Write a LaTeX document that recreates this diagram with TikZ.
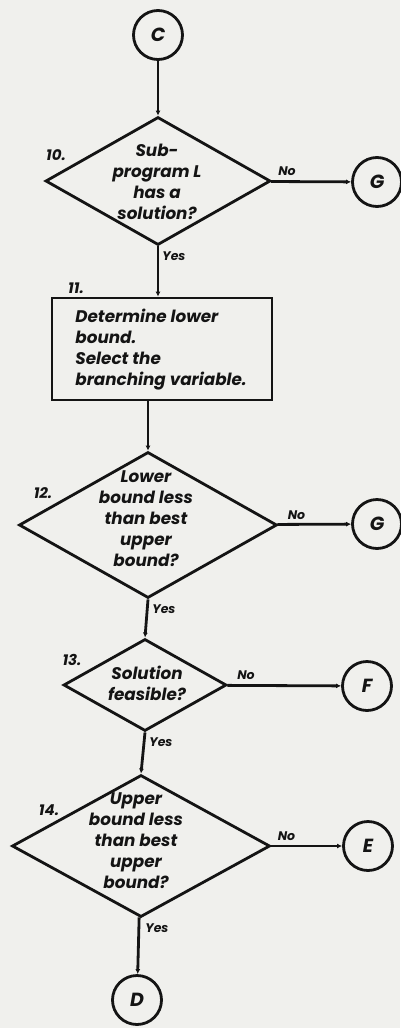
\documentclass[tikz,border=0pt]{standalone}
\usepackage{fontspec}
\setmainfont{Poppins}
\usetikzlibrary{shapes.geometric,arrows.meta}
\definecolor{paper}{RGB}{240,240,237}
\definecolor{ink}{RGB}{20,20,20}

\begin{document}
\begin{tikzpicture}[x=1pt,y=-1pt,line width=2.8pt,draw=ink,text=ink,
    connector/.style={circle,draw,minimum size=49pt,inner sep=0pt,
        font=\bfseries\itshape\fontsize{19}{20}\selectfont},
    decision/.style={diamond,draw,inner sep=0pt},
    procbox/.style={rectangle,draw,inner sep=0pt},
    body/.style={align=center,inner sep=0pt,
        font=\bfseries\itshape\fontsize{16.8}{21}\selectfont},
    tag/.style={inner sep=0pt,font=\bfseries\itshape\fontsize{15}{15}\selectfont},
    answer/.style={inner sep=0pt,font=\bfseries\itshape\fontsize{12.5}{12}\selectfont},
    flow/.style={-{Latex[length=5pt,width=5pt]}}]
    \fill[paper] (0,0) rectangle (400,1028);
    \useasboundingbox (0,0) rectangle (400,1028);

    % step 10
    \node[connector] (c) at (158,35) {C};
    \node[decision,minimum width=225,minimum height=128] (q10) at (158,181) {};
    \node[body] (t10) at (157,182) {Sub-\\program L\\has a\\solution?};
    \node[tag] (n10) at (56,155) {10.};
    \node[connector] (g1) at (377,182) {G};
    \node[answer,anchor=south west] (no10) at ([xshift=5pt,yshift=4pt]q10.east) {No};
    \node[answer,anchor=north west] (yes10) at ([xshift=3pt,yshift=-4pt]q10.south) {Yes};
    \draw[flow] (c) -- (q10);
    \draw[flow] (q10) -- (g1);

    % step 11
    \node[procbox,minimum width=220,minimum height=102] (b11) at (162,349) {};
    \node[body,align=left,anchor=west] (t11) at (74,350)
        {Determine lower\\bound.\\Select the\\branching variable.};
    \node[tag] (n11) at (76,288) {11.};
    \draw[flow] (q10.south) -- (q10.south |- b11.north);

    % step 12
    \node[decision,minimum width=258,minimum height=146] (q12) at (148,525) {};
    \node[body] (t12) at (146,519) {Lower\\bound less\\than best\\upper\\bound?};
    \node[tag] (n12) at (43,493) {12.};
    \node[connector] (g2) at (377,524) {G};
    \node[answer,anchor=south west] (no12) at ([xshift=8pt,yshift=4pt]q12.east) {No};
    \node[answer,anchor=north west] (yes12) at ([xshift=3pt,yshift=-4pt]q12.south) {Yes};
    \draw[flow] (q12.north |- b11.south) -- (q12.north);
    \draw[flow] (q12) -- (g2);

    % step 13
    \node[decision,minimum width=163,minimum height=92] (q13) at (145,685) {};
    \node[body] (t13) at (147,683) {Solution\\feasible?};
    \node[tag] (n13) at (72,660) {13.};
    \node[connector] (f) at (367,686) {F};
    \node[answer,anchor=south west] (no13) at ([xshift=8pt,yshift=4pt]q13.east) {No};
    \node[answer,anchor=north west] (yes13) at ([xshift=3pt,yshift=-4pt]q13.south) {Yes};
    \draw[flow] (q12.south) -- (q13.north);
    \draw[flow] (q13) -- (f);

    % step 14
    \node[decision,minimum width=258,minimum height=142] (q14) at (141,846) {};
    \node[body] (t14) at (136,841) {Upper\\bound less\\than best\\upper\\bound?};
    \node[tag] (n14) at (49,810) {14.};
    \node[connector] (e) at (368,846) {E};
    \node[answer,anchor=south west] (no14) at ([xshift=5pt,yshift=4pt]q14.east) {No};
    \node[answer,anchor=north west] (yes14) at ([xshift=3pt,yshift=-4pt]q14.south) {Yes};
    \node[connector] (d) at (137,1000) {D};
    \draw[flow] (q13.south) -- (q14.north);
    \draw[flow] (q14) -- (e);
    \draw[flow] (q14) -- (d);
\end{tikzpicture}
\end{document}
